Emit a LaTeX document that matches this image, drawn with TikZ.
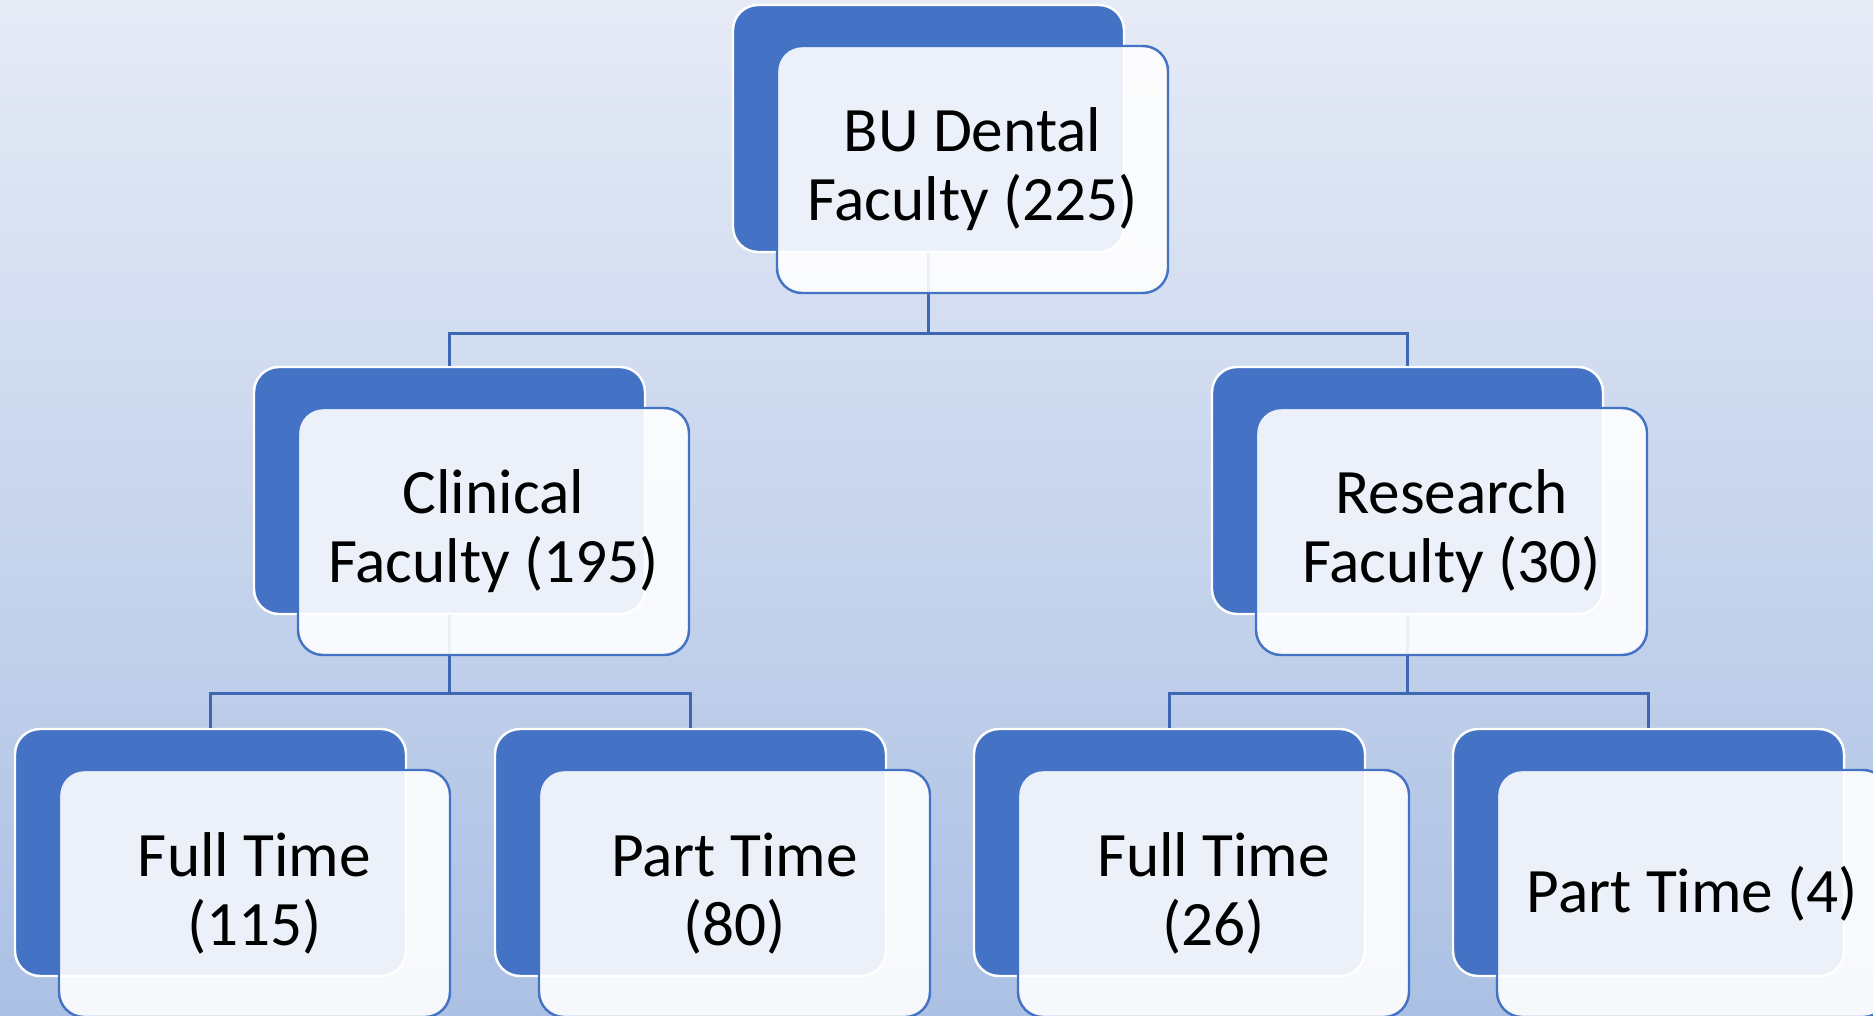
\documentclass[tikz,border=0pt]{standalone}
\usepackage{fontspec}
\setmainfont{Carlito}
\definecolor{accent}{HTML}{4472C4}
\definecolor{bgtop}{HTML}{E6EBF6}
\definecolor{bgbot}{HTML}{ABC0E4}
\tikzset{
  back/.style={draw=white, line width=0.7pt, fill=accent, rounded corners=0.25cm,
    minimum width=3.91cm, minimum height=2.47cm},
  front/.style={draw=accent, line width=0.7pt, fill=white, fill opacity=0.9, text opacity=1,
    rounded corners=0.25cm, minimum width=3.91cm, minimum height=2.47cm, align=center,
    font=\fontsize{18}{19.6}\selectfont},
  link/.style={draw=accent!90!black, line width=0.8pt}
}

\begin{document}
\begin{tikzpicture}
\useasboundingbox (0,0) rectangle (18.73,-10.16);
\clip (0,0) rectangle (18.73,-10.16);
\fill[top color=bgtop, bottom color=bgbot] (0,0) rectangle (18.73,-10.16);

% back boxes
\node[back] (top) at (9.285,-1.285) {};
\node[back] (clin) at (4.495,-4.905) {};
\node[back] (res) at (14.075,-4.905) {};
\node[back] (cft) at (2.105,-8.525) {};
\node[back] (cpt) at (6.905,-8.525) {};
\node[back] (rft) at (11.695,-8.525) {};
\node[back] (rpt) at (16.485,-8.525) {};

% connectors
\draw[link] (top.south) -- ++(0,-0.80) -| (clin.north);
\draw[link] (top.south) -- ++(0,-0.80) -| (res.north);
\draw[link] (clin.south) -- ++(0,-0.78) -| (cft.north);
\draw[link] (clin.south) -- ++(0,-0.78) -| (cpt.north);
\draw[link] (res.south) -- ++(0,-0.78) -| (rft.north);
\draw[link] (res.south) -- ++(0,-0.78) -| (rpt.north);

% front boxes
\node[front] (topw) at ([shift={(0.44,-0.41)}]top) {BU Dental\\Faculty (225)};
\node[front] (clinw) at ([shift={(0.44,-0.41)}]clin) {Clinical\\Faculty (195)};
\node[front] (resw) at ([shift={(0.44,-0.41)}]res) {Research\\Faculty (30)};
\node[front] (cftw) at ([shift={(0.44,-0.41)}]cft) {Full Time\\(115)};
\node[front] (cptw) at ([shift={(0.44,-0.41)}]cpt) {Part Time\\(80)};
\node[front] (rftw) at ([shift={(0.44,-0.41)}]rft) {Full Time\\(26)};
\node[front] (rptw) at ([shift={(0.44,-0.41)}]rpt) {Part Time (4)};
\end{tikzpicture}
\end{document}
